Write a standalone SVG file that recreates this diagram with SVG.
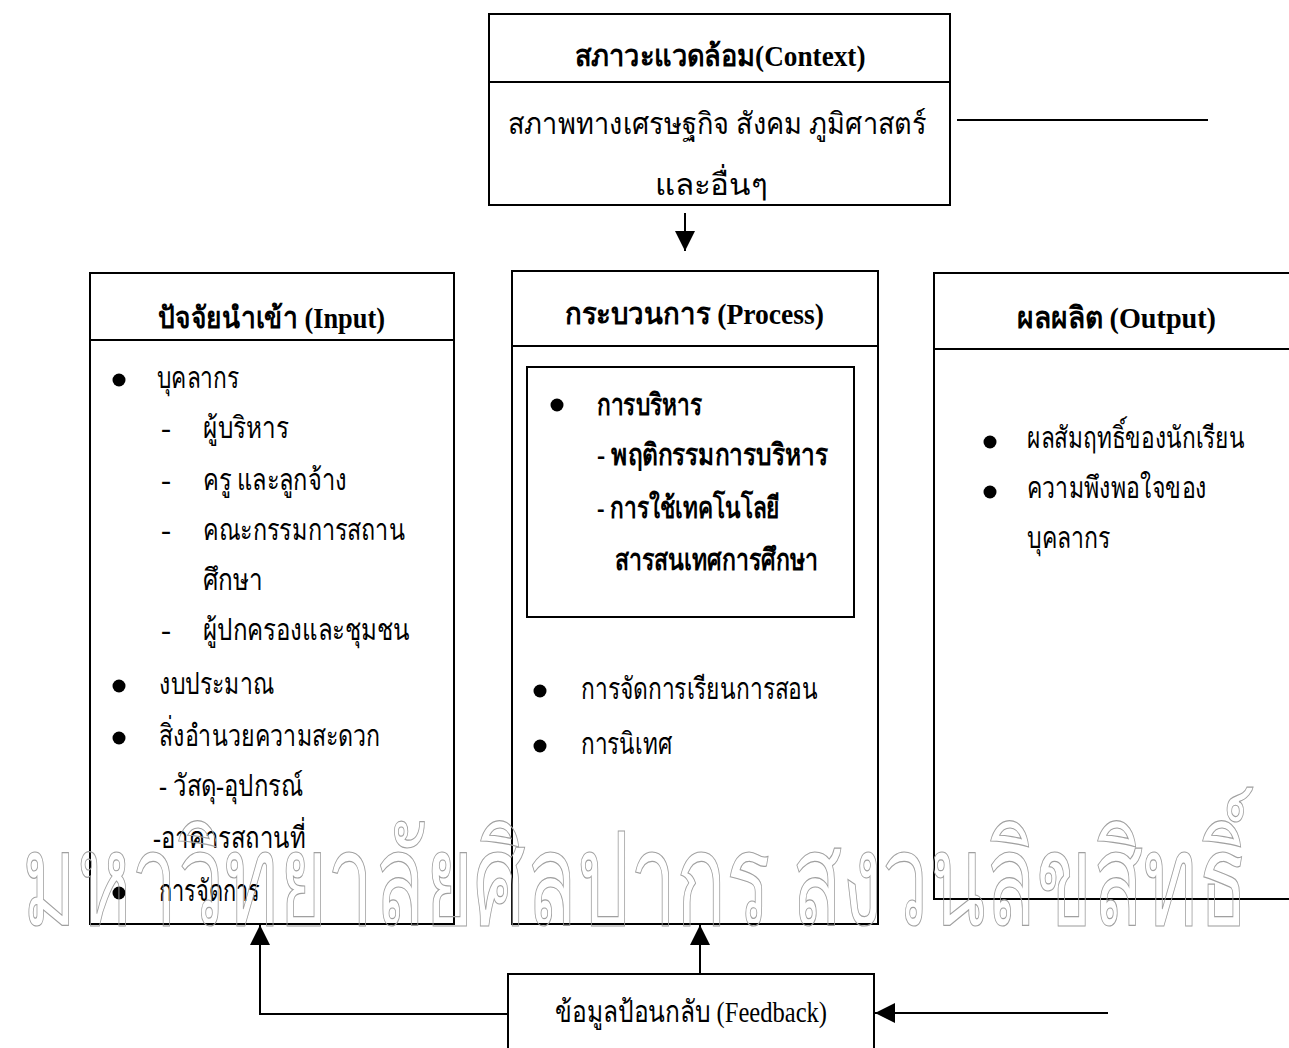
<svg xmlns="http://www.w3.org/2000/svg" width="1289" height="1048" viewBox="0 0 1289 1048">
<style>
.box{fill:#fff;stroke:#000;stroke-width:2}
.ln{fill:none;stroke:#000;stroke-width:2}
.dot{fill:#000}
text{font-family:"Liberation Serif",serif;fill:#000}
.h{font-size:30px;font-weight:bold}
.r{font-size:30px}
.bd{font-size:30px;font-weight:bold}
.wm{font-size:130px;fill:none;stroke:#a0a0a0;stroke-width:1.2}
</style>
<defs>
<marker id="ah" viewBox="0 0 20 20" refX="20" refY="10" markerWidth="20" markerHeight="20" markerUnits="userSpaceOnUse" orient="auto"><path d="M0,0 L20,10 L0,20 z" fill="#000"/></marker>
</defs>
<rect width="1289" height="1048" fill="#fff"/>

<g id="context">
<rect class="box" x="489" y="14" width="461" height="191"/>
<line class="ln" x1="489" y1="82" x2="950" y2="82"/>
<text class="h" x="720" y="66" text-anchor="middle" textLength="291" lengthAdjust="spacingAndGlyphs">สภาวะแวดล้อม(Context)</text>
<text class="r" x="508" y="134" textLength="418" lengthAdjust="spacingAndGlyphs">สภาพทางเศรษฐกิจ สังคม ภูมิศาสตร์</text>
<text class="r" x="655" y="195" textLength="113" lengthAdjust="spacingAndGlyphs">และอื่นๆ</text>
</g>

<g id="input">
<rect class="box" x="90" y="273" width="364" height="651"/>
<line class="ln" x1="90" y1="340" x2="454" y2="340"/>
<text class="h" x="158" y="328" textLength="227" lengthAdjust="spacingAndGlyphs">ปัจจัยนำเข้า (Input)</text>
<circle class="dot" cx="119" cy="380" r="6.5"/>
<text class="r" x="157" y="388" textLength="82" lengthAdjust="spacingAndGlyphs">บุคลากร</text>
<text class="r" x="161" y="438">-</text>
<text class="r" x="203" y="438" textLength="86" lengthAdjust="spacingAndGlyphs">ผู้บริหาร</text>
<text class="r" x="161" y="490">-</text>
<text class="r" x="203" y="490" textLength="144" lengthAdjust="spacingAndGlyphs">ครู และลูกจ้าง</text>
<text class="r" x="161" y="540">-</text>
<text class="r" x="203" y="540" textLength="202" lengthAdjust="spacingAndGlyphs">คณะกรรมการสถาน</text>
<text class="r" x="203" y="590" textLength="60" lengthAdjust="spacingAndGlyphs">ศึกษา</text>
<text class="r" x="161" y="640">-</text>
<text class="r" x="203" y="640" textLength="207" lengthAdjust="spacingAndGlyphs">ผู้ปกครองและชุมชน</text>
<circle class="dot" cx="119" cy="686" r="6.5"/>
<text class="r" x="159" y="694" textLength="115" lengthAdjust="spacingAndGlyphs">งบประมาณ</text>
<circle class="dot" cx="119" cy="738" r="6.5"/>
<text class="r" x="159" y="746" textLength="221" lengthAdjust="spacingAndGlyphs">สิ่งอำนวยความสะดวก</text>
<text class="r" x="159" y="796" textLength="144" lengthAdjust="spacingAndGlyphs">- วัสดุ-อุปกรณ์</text>
<text class="r" x="153" y="848" textLength="153" lengthAdjust="spacingAndGlyphs">-อาคารสถานที่</text>
<circle class="dot" cx="119" cy="893" r="6.5"/>
<text class="r" x="159" y="901" textLength="101" lengthAdjust="spacingAndGlyphs">การจัดการ</text>
</g>

<g id="process">
<rect class="box" x="512" y="271" width="366" height="653"/>
<line class="ln" x1="512" y1="346" x2="878" y2="346"/>
<text class="h" x="565" y="324" textLength="259" lengthAdjust="spacingAndGlyphs">กระบวนการ (Process)</text>
<rect class="box" x="527" y="367" width="327" height="250"/>
<circle class="dot" cx="557" cy="405" r="6.5"/>
<text class="bd" x="597" y="415" textLength="105" lengthAdjust="spacingAndGlyphs">การบริหาร</text>
<text class="bd" x="597" y="465" textLength="231" lengthAdjust="spacingAndGlyphs">-  พฤติกรรมการบริหาร</text>
<text class="bd" x="597" y="518" textLength="183" lengthAdjust="spacingAndGlyphs">-  การใช้เทคโนโลยี</text>
<text class="bd" x="615" y="570" textLength="203" lengthAdjust="spacingAndGlyphs">สารสนเทศการศึกษา</text>
<circle class="dot" cx="540" cy="691" r="6.5"/>
<text class="r" x="581" y="699" textLength="237" lengthAdjust="spacingAndGlyphs">การจัดการเรียนการสอน</text>
<circle class="dot" cx="540" cy="746" r="6.5"/>
<text class="r" x="581" y="754" textLength="91" lengthAdjust="spacingAndGlyphs">การนิเทศ</text>
</g>

<g id="output">
<rect class="box" x="934" y="273" width="400" height="626"/>
<line class="ln" x1="934" y1="349" x2="1295" y2="349"/>
<text class="h" x="1017" y="328" textLength="199" lengthAdjust="spacingAndGlyphs">ผลผลิต (Output)</text>
<circle class="dot" cx="990" cy="442" r="6.5"/>
<text class="r" x="1027" y="448" textLength="218" lengthAdjust="spacingAndGlyphs">ผลสัมฤทธิ์ของนักเรียน</text>
<circle class="dot" cx="990" cy="492" r="6.5"/>
<text class="r" x="1027" y="498" textLength="180" lengthAdjust="spacingAndGlyphs">ความพึงพอใจของ</text>
<text class="r" x="1027" y="548" textLength="83" lengthAdjust="spacingAndGlyphs">บุคลากร</text>
</g>

<g id="feedback">
<rect class="box" x="508" y="974" width="366" height="100"/>
<text class="r" x="555" y="1022" textLength="272" lengthAdjust="spacingAndGlyphs">ข้อมูลป้อนกลับ (Feedback)</text>
</g>

<g id="connectors">
<line class="ln" x1="957" y1="120" x2="1208" y2="120"/>
<line class="ln" x1="685" y1="213" x2="685" y2="251" marker-end="url(#ah)"/>
<line class="ln" x1="700" y1="974" x2="700" y2="925" marker-end="url(#ah)"/>
<polyline class="ln" points="508,1014 260,1014 260,925" marker-end="url(#ah)"/>
<line class="ln" x1="1108" y1="1013" x2="875" y2="1013" marker-end="url(#ah)"/>
</g>

<text class="wm" x="22" y="925" textLength="1226" lengthAdjust="spacingAndGlyphs">มหาวิทยาลัยศิลปากร สงวนลิขสิทธิ์</text>
</svg>
